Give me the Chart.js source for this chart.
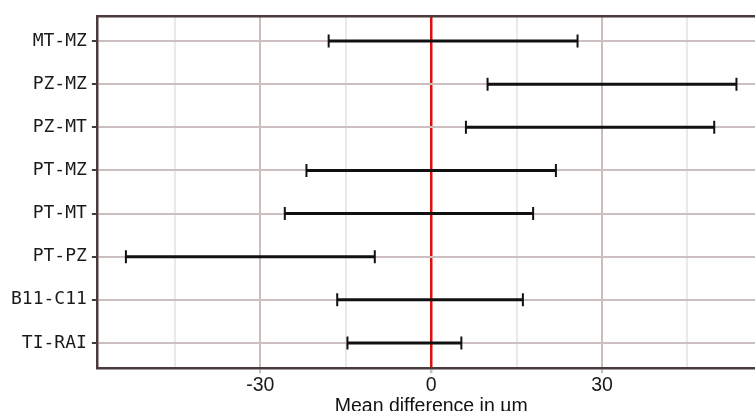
<!DOCTYPE html>
<html>
<head>
<meta charset="utf-8">
<script src="https://cdn.jsdelivr.net/npm/chart.js@4.4.1/dist/chart.umd.min.js"></script>
<style>
  html, body { margin: 0; padding: 0; width: 755px; height: 411px; overflow: hidden; background: #fff; }
  #wrap { width: 774px; height: 418px; position: relative; }
</style>
</head>
<body>
<div id="wrap"><canvas id="chart"></canvas></div>
<script>
// comparisons, top to bottom
const categories = ['MT-MZ', 'PZ-MZ', 'PZ-MT', 'PT-MZ', 'PT-MT', 'PT-PZ', 'B11-C11', 'TI-RAI'];
// lower and upper limits of each interval (µm)
const lowerLimits = [-18.0, 9.9, 6.1, -21.9, -25.7, -53.6, -16.5, -14.7];
const upperLimits = [25.7, 53.6, 49.7, 21.9, 17.9, -9.9, 16.1, 5.3];
const xTicks = [-45, -30, -15, 0, 15, 30, 45];
const xLabels = ['-30', '0', '30'];

const borderColor = '#4a3b3b';

const datasets = categories.map((name, i) => ({
  label: name,
  data: [{ x: lowerLimits[i], y: i }, { x: upperLimits[i], y: i }],
  borderColor: '#111',
  borderWidth: 3,
  showLine: true,
  pointStyle: 'line',
  rotation: 90,
  pointRadius: 6.5,
  pointBorderWidth: 2,
  pointBorderColor: '#111',
  pointHoverRadius: 6.5,
}));

new Chart(document.getElementById('chart'), {
  type: 'scatter',
  data: { datasets },
  options: {
    responsive: true,
    maintainAspectRatio: false,
    animation: false,
    layout: { padding: { top: 8, right: 4, left: 6, bottom: 0 } },
    plugins: { legend: { display: false }, tooltip: { enabled: false } },
    scales: {
      x: {
        type: 'linear',
        min: -58.7,
        max: 58.7,
        afterBuildTicks: (scale) => { scale.ticks = xTicks.map(v => ({ value: v })); },
        ticks: {
          autoSkip: false,
          maxRotation: 0,
          padding: 1,
          color: '#1a1a1a',
          font: { family: '"Liberation Sans", Arial, sans-serif', size: 19.5 },
          callback: (v) => xLabels.includes(String(v)) ? String(v) : '',
        },
        grid: {
          color: (ctx) => ctx.tick.value === 0 ? '#e01010' : (ctx.tick.value % 30 === 0 ? '#ccbcbc' : '#ebe8e8'),
          lineWidth: (ctx) => ctx.tick.value === 0 ? 2.5 : 2,
          tickColor: (ctx) => ctx.tick.value % 30 === 0 ? '#ccbcbc' : 'rgba(0,0,0,0)',
          tickLength: 5,
        },
        border: { display: true, color: borderColor, width: 2.5 },
        title: {
          display: true,
          text: 'Mean difference in µm',
          color: '#111',
          font: { family: '"Liberation Sans", Arial, sans-serif', size: 19.5 },
          padding: { top: -4, bottom: 0 },
        },
      },
      xTop: {
        type: 'linear',
        position: 'top',
        min: -58.7,
        max: 58.7,
        ticks: { display: false },
        grid: { display: false, drawTicks: false },
        border: { display: true, color: borderColor, width: 2.5 },
      },
      y: {
        type: 'linear',
        reverse: true,
        min: -0.586,
        max: 7.586,
        afterBuildTicks: (scale) => { scale.ticks = categories.map((c, i) => ({ value: i })); },
        ticks: {
          autoSkip: false,
          padding: 5,
          color: '#1a1a1a',
          font: { family: '"DejaVu Sans Mono", monospace', size: 18 },
          callback: (v) => categories[v],
        },
        grid: {
          color: '#cdbfbf',
          lineWidth: 2,
          tickColor: borderColor,
          tickLength: 5,
        },
        border: { display: true, color: borderColor, width: 2.5 },
      },
    },
  },
});
</script>
</body>
</html>
